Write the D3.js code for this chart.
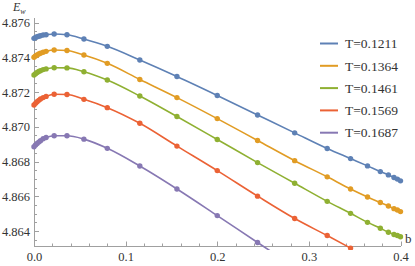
<!DOCTYPE html>
<html><head><meta charset="utf-8">
<script src="https://cdn.jsdelivr.net/npm/d3@7"></script>
<style>body{margin:0;background:#fff}svg{display:block}</style>
</head><body><svg id="c" width="415" height="266"></svg>
<script>
const bValues = [0, 0.0017, 0.0034, 0.0052, 0.0071, 0.01, 0.0132, 0.022, 0.036, 0.0545, 0.08, 0.1155, 0.156, 0.2, 0.244, 0.2845, 0.32, 0.3455, 0.364, 0.378, 0.3868, 0.3929, 0.3966, 0.4];
const seriesNames = ["T=0.1211", "T=0.1364", "T=0.1461", "T=0.1569", "T=0.1687"];
const eT1211 = [4.87509,4.87514,4.87518,4.87521,4.87524,4.87528,4.87530,4.87534,4.87530,4.87505,4.87463,4.87384,4.87289,4.87180,4.87068,4.86965,4.86875,4.86817,4.86775,4.86742,4.86723,4.86708,4.86699,4.86689];
const eT1364 = [4.87400,4.87407,4.87413,4.87419,4.87423,4.87429,4.87434,4.87442,4.87439,4.87413,4.87365,4.87272,4.87168,4.87047,4.86921,4.86805,4.86712,4.86642,4.86596,4.86564,4.86544,4.86529,4.86521,4.86512];
const eT1461 = [4.87298,4.87305,4.87312,4.87318,4.87323,4.87329,4.87333,4.87340,4.87339,4.87317,4.87269,4.87177,4.87059,4.86927,4.86794,4.86675,4.86571,4.86502,4.86450,4.86416,4.86393,4.86380,4.86374,4.86367];
const eT1569 = [4.87125,4.87135,4.87144,4.87152,4.87160,4.87168,4.87175,4.87187,4.87186,4.87158,4.87110,4.87020,4.86889,4.86748,4.86601,4.86472,4.86374,4.86302];
const eT1687 = [4.86885,4.86895,4.86904,4.86912,4.86920,4.86931,4.86938,4.86948,4.86948,4.86929,4.86876,4.86774,4.86642,4.86489,4.86334,4.86193];
const xTicks = [0, 0.1, 0.2, 0.3, 0.4];
const yTicks = [4.864, 4.866, 4.868, 4.870, 4.872, 4.874, 4.876];
const colors = ["#5E81B5", "#E19C24", "#8FB032", "#EB6235", "#8778B3"];

const allSeries = [eT1211, eT1364, eT1461, eT1569, eT1687];
const svg = d3.select("#c");
const x = d3.scaleLinear().domain([0, 0.4]).range([34, 400.5]);
const y = d3.scaleLinear().domain([4.86314, 4.87626]).range([246, 18]);
const axisCol = "#a0a0a0", textCol = "#333";
const font = "'Liberation Serif', 'Times New Roman', serif";

svg.append("clipPath").attr("id","clip").append("rect")
  .attr("x", 31).attr("y", 14).attr("width", 373).attr("height", 236);

// x axis
const xMinor = d3.range(0, 0.4001, 0.02);
svg.append("line").attr("x1", 34).attr("x2", 401).attr("y1", 246.5).attr("y2", 246.5).attr("stroke", axisCol).attr("stroke-width", 1);
svg.selectAll(".xt").data(xMinor).enter().append("line")
  .attr("x1", d => Math.round(x(d)) + 0.5).attr("x2", d => Math.round(x(d)) + 0.5)
  .attr("y1", 246).attr("y2", d => xTicks.some(t => Math.abs(t - d) < 1e-9) ? 241.5 : 243.5)
  .attr("stroke", axisCol);
const xAxisG = svg.append("g").attr("transform", "translate(0,246)")
  .call(d3.axisBottom(x).tickValues(xTicks).tickSize(0).tickPadding(6).tickFormat(d3.format(".1f")));
xAxisG.attr("font-family", null);
xAxisG.select(".domain").remove();
xAxisG.selectAll("text").style("font-family", font).attr("font-size", 12.5).attr("fill", textCol).attr("dy", "0.71em");

// y axis
const yMinor = d3.range(4.8635, 4.87626, 0.0005);
svg.append("line").attr("x1", 34.5).attr("x2", 34.5).attr("y1", 18).attr("y2", 246).attr("stroke", axisCol);
svg.selectAll(".yt").data(yMinor).enter().append("line")
  .attr("y1", d => Math.round(y(d)) + 0.5).attr("y2", d => Math.round(y(d)) + 0.5)
  .attr("x1", 34).attr("x2", d => yTicks.some(t => Math.abs(t - d) < 1e-7) ? 39 : 37)
  .attr("stroke", axisCol);
const yAxisG = svg.append("g").attr("transform", "translate(34,0)")
  .call(d3.axisLeft(y).tickValues(yTicks).tickSize(0).tickPadding(4).tickFormat(d3.format(".3f")));
yAxisG.attr("font-family", null);
yAxisG.select(".domain").remove();
yAxisG.selectAll("text").style("font-family", font).attr("font-size", 12.5).attr("fill", textCol);

// axis labels
const lab = svg.append("text").attr("x", 13).attr("y", 11).style("font-family", font).attr("font-size", 12).attr("font-style", "italic").attr("fill", textCol);
lab.append("tspan").text("E");
lab.append("tspan").attr("font-size", 8).attr("dy", 2.5).text("w");
svg.append("text").attr("x", 405).attr("y", 243).style("font-family", font).attr("font-size", 13).attr("fill", textCol).text("b");

// series
const plot = svg.append("g").attr("clip-path", "url(#clip)");
const line = d3.line().x(d => x(d[0])).y(d => y(d[1])).curve(d3.curveMonotoneX);
allSeries.forEach((vals, i) => {
  const pts = vals.map((v, j) => [bValues[j], v]);
  plot.append("path").datum(pts).attr("d", line).attr("fill", "none")
    .attr("stroke", colors[i]).attr("stroke-width", 1.6);
  plot.selectAll(".p" + i).data(pts).enter().append("circle")
    .attr("cx", d => x(d[0])).attr("cy", d => y(d[1])).attr("r", 2.7).attr("fill", colors[i]);
});

// legend
const lg = svg.append("g");
seriesNames.forEach((n, i) => {
  const yy = 43.5 + i * 22.3;
  lg.append("line").attr("x1", 320).attr("x2", 338).attr("y1", yy).attr("y2", yy).attr("stroke", colors[i]).attr("stroke-width", 2);
  lg.append("text").attr("x", 345).attr("y", yy).attr("dy", "0.35em").style("font-family", font).attr("font-size", 13.5).attr("fill", textCol).text(n);
});
</script></body></html>
